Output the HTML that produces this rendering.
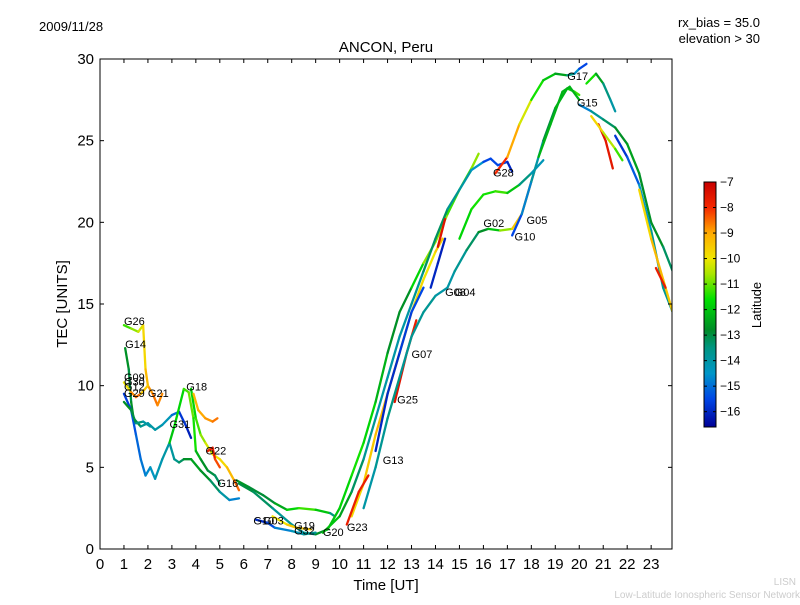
<!DOCTYPE html>
<html><head><meta charset="utf-8"><style>
body{margin:0;background:#fff;width:800px;height:600px;overflow:hidden}
svg{font-family:"Liberation Sans","DejaVu Sans",sans-serif}
</style></head><body>
<svg id="chart" width="800" height="600">
<text x="39" y="31" font-size="13">2009/11/28</text>
<text x="760" y="27" font-size="13" text-anchor="end">rx_bias = 35.0</text>
<text x="760" y="43" font-size="13" text-anchor="end">elevation &gt; 30</text>
<text x="386" y="52" font-size="15" text-anchor="middle">ANCON, Peru</text>
<text x="386" y="590" font-size="15" text-anchor="middle">Time [UT]</text>
<text transform="translate(67,304) rotate(-90)" font-size="15" text-anchor="middle">TEC [UNITS]</text>
<text x="796" y="585" font-size="10" fill="#ccc" text-anchor="end">LISN</text>
<text x="800" y="598" font-size="10" fill="#ccc" text-anchor="end">Low-Latitude Ionospheric Sensor Network</text>
<g id="plot"></g>
<g id="cbar"></g>
</svg>
<script>
const xTicks=[0,1,2,3,4,5,6,7,8,9,10,11,12,13,14,15,16,17,18,19,20,21,22,23];
const yTicks=[0,5,10,15,20,25,30];
const cbTicks=[-7,-8,-9,-10,-11,-12,-13,-14,-15,-16];
const satNames=["G26","G14","G09","G30","G12","G29","G21","G18","G31","G22","G16","G10","G03","G19","G32","G20","G23","G13","G25","G07","G08","G04","G02","G10","G05","G28","G17","G15"];
const labelT=[1.0,1.05,1.0,1.0,1.0,1.0,2.0,3.6,2.9,4.4,4.9,6.4,6.8,8.1,8.1,9.3,10.3,11.8,12.4,13.0,14.4,14.8,16.0,17.3,17.8,16.4,19.5,19.9];
const labelV=[13.7,12.3,10.3,10.0,9.7,9.3,9.3,9.7,7.4,5.8,3.8,1.5,1.5,1.2,0.9,0.8,1.1,5.2,8.9,11.7,15.5,15.5,19.7,18.9,19.9,22.8,28.7,27.1];
const tracks=[
[[1.0,13.7,-11.5],[1.3,13.5,-11],[1.6,13.3,-10.5],[1.8,13.7,-10],[1.9,11,-9.5],[2.0,10,-9],[2.2,9.5,-8.7],[2.4,8.8,-8.5],[2.6,9.5,-9]],
[[1.05,12.3,-12.5],[1.2,11,-13],[1.3,9,-13],[1.4,8,-12.5],[1.7,7.5,-13.5],[2.0,7.7,-14],[2.3,7.3,-14],[2.6,7.6,-14],[3.0,8.2,-14.5],[3.3,8.4,-15.5],[3.6,7.5,-16],[3.8,6.8,-16.2]],
[[1.0,9.5,-15.8],[1.3,8.5,-15.5],[1.5,7,-15.2],[1.7,5.5,-15],[1.9,4.5,-14.8],[2.1,5,-14.5],[2.3,4.3,-14.3],[2.6,5.5,-14],[2.9,6.5,-14],[3.1,5.5,-13.8],[3.3,5.3,-13.5],[3.5,5.5,-13],[3.8,5.5,-12.5],[4.2,4.8,-12.5],[4.6,4.2,-13],[5.0,3.5,-13.5],[5.4,3.0,-14.5],[5.8,3.1,-15]],
[[1.0,10.2,-10.5],[1.3,9.6,-9.5],[1.5,9.3,-8],[1.7,9.5,-9],[2.0,10,-10]],
[[1.0,9,-12.5],[1.3,8.5,-13],[1.5,7.7,-13],[1.8,7.8,-14],[2.1,7.5,-14]],
[[2.9,6.5,-12],[3.1,7.5,-12],[3.5,9.8,-11.5],[3.7,9.6,-11],[3.9,8,-11],[4.0,6,-12],[4.2,5.5,-12.5],[4.5,4.8,-13],[4.8,4.5,-13],[5.0,4,-13.5]],
[[3.8,9.8,-12],[4.0,8,-11.5],[4.2,7,-11],[4.4,6.5,-10.5],[4.7,5.8,-10],[5.0,5.5,-10],[5.3,5,-9.5],[5.6,4.2,-9],[5.8,3.6,-8]],
[[3.9,9.5,-9.5],[4.1,8.5,-9],[4.4,8,-9],[4.7,7.8,-8.7],[4.9,8,-8.5]],
[[4.5,6,-8],[4.7,6.2,-7.5],[4.8,5.5,-8],[5.0,5,-8.5]],
[[5.7,4.2,-12.5],[6.2,3.8,-12.8],[6.8,3.3,-13],[7.3,2.8,-12.8],[7.8,2.4,-12],[8.3,2.5,-11.5],[9,2.4,-11],[9.6,2.2,-13],[9.8,2.0,-14]],
[[5.8,4.0,-13],[6.4,3.5,-13],[7.2,2.5,-13.5],[8.0,1.5,-14],[8.5,1.0,-14],[9,0.9,-13.5],[9.5,1.2,-12]],
[[6.5,1.8,-16],[7.0,1.6,-15.8],[7.3,1.3,-15],[8,1.1,-14.5],[8.5,0.9,-14],[9.0,1.0,-13.5]],
[[7.2,2.0,-10],[7.8,1.5,-10],[8.2,1.3,-9],[8.8,1.2,-10]],
[[9.5,1.2,-12],[10,2.5,-12],[10.5,4.5,-11.5],[11,6.5,-11.5],[11.5,9,-12],[12,12,-12.5],[12.5,14.5,-13],[13,16,-12.5],[13.5,17.5,-11],[14,18.8,-10.5],[14.5,20.5,-11],[15,22,-11.5],[15.5,23.3,-11],[15.8,24.2,-10.5]],
[[9.3,1.0,-12],[10,2.0,-12],[10.5,3.5,-13],[11,5.5,-13.5],[11.5,8,-14],[12,10.5,-14],[12.5,13,-14],[13,15,-14],[13.5,17,-13.5],[14,19,-13],[14.5,20.8,-13.5],[15,22,-14],[15.5,23.2,-14],[16,23.7,-15],[16.3,23.9,-16],[16.6,23.5,-15],[17,23.7,-16],[17.2,23.1,-16]],
[[10.5,2,-10],[11,4,-9.5],[11.5,7,-9.5],[12,9.5,-9],[12.5,12,-9.5],[13,14.5,-9.5],[13.5,16.5,-10],[14,18.2,-10],[14.3,19,-9]],
[[10.3,1.5,-7.5],[10.8,3.5,-8],[11.2,4.5,-7.5]],
[[12.3,9,-7.5],[12.8,12,-7.5],[13.2,14,-8]],
[[14.1,18.5,-7.5],[14.4,20.2,-7.5]],
[[11.5,6,-16],[12,9.5,-16],[12.5,12,-15.8],[13,14.5,-15.5],[13.5,16,-15.5]],
[[13.8,16,-16],[14.1,17.5,-16],[14.4,19,-16.2]],
[[11,2.5,-14],[11.5,5,-14],[12,8,-13.5],[12.5,10.5,-13.5],[13,13,-14],[13.5,14.5,-13.5],[14,15.5,-14],[14.5,16,-14],[14.8,17,-14],[15.3,18.3,-13.5],[15.8,19.4,-13],[16.2,19.6,-12.5],[16.7,19.5,-11.5],[17.2,19.6,-10],[17.6,20.5,-9],[18,22.5,-8.5],[18.2,23.5,-9]],
[[15,19,-12],[15.5,20.8,-11.5],[16,21.7,-11.5],[16.5,21.9,-11.5],[17,21.8,-11],[17.5,22.3,-13],[18,23,-14],[18.5,23.8,-14.5]],
[[16.5,23,-7.5],[17,24,-8.5],[17.5,26,-9.5],[18,27.5,-11],[18.5,28.7,-12],[19,29.1,-12],[19.5,29,-13],[19.8,29.1,-14],[20,29.4,-15],[20.3,29.7,-16]],
[[20.3,28.5,-11],[20.7,29.1,-12],[21,28.5,-13],[21.3,27.5,-14],[21.5,26.8,-14]],
[[17.2,19.2,-16],[17.6,20.5,-15],[18,22.5,-14.5],[18.5,25,-13.5],[19,27,-12.5],[19.5,28.2,-12],[19.8,28,-11.5],[20,27.8,-11]],
[[18.3,24,-12],[18.8,26,-12.5],[19.3,28,-12],[19.6,28.3,-12.5],[20,27.5,-12]],
[[20,27.2,-15.5],[20.5,26.8,-14],[21,26.3,-13.5],[21.5,25.8,-13],[22,24.8,-12.5],[22.5,23,-12.5],[23,20,-13],[23.5,18.5,-12.5],[23.9,17,-14]],
[[20.8,26,-7.5],[21.1,25,-7.5],[21.4,23.3,-7.7]],
[[20.5,26.5,-9.5],[21,25.5,-10],[21.5,24.5,-11],[21.8,23.8,-11.5]],
[[21.5,25.3,-16],[22,24,-15.5],[22.5,22.3,-15],[23,19.5,-14],[23.5,16,-13.5],[23.9,14.5,-14]],
[[22.5,22,-10],[23,19,-9.5],[23.5,16.5,-9],[23.9,14.5,-10]],
[[23.2,17.2,-7.5],[23.6,16,-8]]
];
const NS="http://www.w3.org/2000/svg";
const X0=100,X1=672,Y0=59,Y1=549,XMAX=23.87,YMAX=30;
const xs=t=>X0+t/XMAX*(X1-X0), ys=v=>Y1-v/YMAX*(Y1-Y0);
const CMIN=-16.6,CMAX=-7;
const stops=[[-16.6,[0,0,150]],[-15.5,[0,70,230]],[-14.5,[0,150,200]],[-13.5,[0,150,130]],[-12.8,[0,140,40]],[-11.6,[0,225,0]],[-10.6,[170,230,0]],[-10,[240,230,0]],[-9,[255,170,0]],[-8,[245,40,0]],[-7,[200,0,0]]];
function jet(v){v=Math.max(CMIN,Math.min(CMAX,v));
 for(let i=0;i<stops.length-1;i++){const a=stops[i],b=stops[i+1];
  if(v<=b[0]){const f=(v-a[0])/(b[0]-a[0]);const c=a[1].map((x,k)=>Math.round(x+(b[1][k]-x)*f));return `rgb(${c[0]},${c[1]},${c[2]})`;}}
 return 'rgb(200,0,0)';}
function mk(tag,attrs,parent){const e=document.createElementNS(NS,tag);for(const k in attrs)e.setAttribute(k,attrs[k]);parent.appendChild(e);return e;}
const plot=document.getElementById('plot');
const clip=mk('clipPath',{id:'pc'},plot);mk('rect',{x:X0,y:Y0,width:X1-X0,height:Y1-Y0},clip);
const lines=mk('g',{'clip-path':'url(#pc)'},plot);
tracks.forEach((tr,i)=>{
 for(let j=0;j<tr.length-1;j++){
  const a=tr[j],b=tr[j+1];
  const seg=mk('line',{x1:xs(a[0]),y1:ys(a[1]),x2:xs(b[0]),y2:ys(b[1]),stroke:jet((a[2]+b[2])/2),'stroke-width':2.3,'stroke-linecap':'round'},lines);
  
  
 }
});
satNames.forEach((n,i)=>{
 const t=mk('text',{x:xs(labelT[i]),y:ys(labelV[i]),'font-size':11},plot);
 t.textContent=n;
 
 
});
const frame=mk('rect',{x:X0,y:Y0,width:X1-X0,height:Y1-Y0,fill:'none',stroke:'#000','stroke-width':1},plot);


xTicks.forEach(v=>{
 const x=xs(v);
 mk('line',{x1:x,y1:Y1,x2:x,y2:Y1-4,stroke:'#000'},plot);
 mk('line',{x1:x,y1:Y0,x2:x,y2:Y0+4,stroke:'#000'},plot);
 const t=mk('text',{x:x,y:Y1+20,'font-size':15,'text-anchor':'middle'},plot);t.textContent=v;
 
 
});
yTicks.forEach(v=>{
 const y=ys(v);
 mk('line',{x1:X0,y1:y,x2:X0+4,y2:y,stroke:'#000'},plot);
 mk('line',{x1:X1,y1:y,x2:X1-4,y2:y,stroke:'#000'},plot);
 const t=mk('text',{x:X0-6,y:y+5,'font-size':15,'text-anchor':'end'},plot);t.textContent=v;
 
 
});
const cb=document.getElementById('cbar');
const CX=704,CW=12,CT=182,CB=427;
const cy=v=>CT+(CMAX-v)/(CMAX-CMIN)*(CB-CT);
for(let y=CT;y<CB;y++){mk('rect',{x:CX,y:y,width:CW,height:1.2,fill:jet(CMAX-(y-CT+0.5)/(CB-CT)*(CMAX-CMIN))},cb);}
mk('rect',{x:CX,y:CT,width:CW,height:CB-CT,fill:'none',stroke:'#000'},cb);
cbTicks.forEach(v=>{
 const y=cy(v);
 mk('line',{x1:CX,y1:y,x2:CX+3,y2:y,stroke:'#000'},cb);
 mk('line',{x1:CX+CW,y1:y,x2:CX+CW-3,y2:y,stroke:'#000'},cb);
 const t=mk('text',{x:CX+CW+4,y:y+4,'font-size':12},cb);t.textContent=String(v).replace('-','\u2212');
 
 
});
const cl=mk('text',{transform:'translate(761,305) rotate(-90)','font-size':13,'text-anchor':'middle'},cb);
cl.textContent='Latitude';


</script>
</body></html>
